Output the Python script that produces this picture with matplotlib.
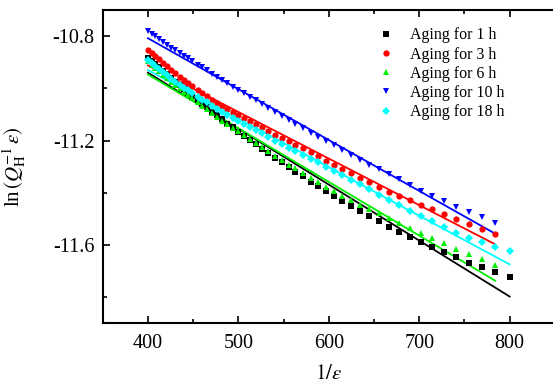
import matplotlib
matplotlib.use('Agg')
import matplotlib.pyplot as plt
import numpy as np
from matplotlib.ticker import MultipleLocator

plt.rcParams['font.family'] = ['Liberation Serif', 'DejaVu Serif']
plt.rcParams['mathtext.fontset'] = 'stix'
plt.rcParams['axes.unicode_minus'] = False

# 1/strain values (shared by all series)
inv_eps = [400, 404, 408, 412, 417, 421, 426, 430, 435, 440,
           444, 449, 455, 460, 465, 471, 476, 482, 488, 494,
           500, 506, 513, 519, 526, 533, 541, 548, 556, 563,
           571, 580, 588, 597, 606, 615, 625, 635, 645, 656,
           667, 678, 690, 702, 714, 727, 741, 755, 769, 784, 800]

lnq_1h = [-10.884, -10.896, -10.908, -10.920, -10.935, -10.947, -10.962, -10.974, -10.988, -11.003,
          -11.014, -11.028, -11.045, -11.059, -11.073, -11.089, -11.103, -11.119, -11.135, -11.150,
          -11.166, -11.181, -11.199, -11.214, -11.232, -11.249, -11.268, -11.284, -11.303, -11.319,
          -11.337, -11.357, -11.375, -11.394, -11.413, -11.431, -11.451, -11.471, -11.490, -11.510,
          -11.530, -11.549, -11.570, -11.589, -11.608, -11.628, -11.648, -11.668, -11.686, -11.705, -11.724]

lnq_3h = [-10.852, -10.864, -10.877, -10.889, -10.904, -10.916, -10.931, -10.943, -10.956, -10.970,
          -10.980, -10.992, -11.006, -11.018, -11.030, -11.044, -11.056, -11.068, -11.080, -11.092,
          -11.103, -11.114, -11.127, -11.138, -11.150, -11.163, -11.177, -11.189, -11.203, -11.216,
          -11.230, -11.245, -11.260, -11.277, -11.293, -11.309, -11.326, -11.343, -11.360, -11.379,
          -11.396, -11.412, -11.428, -11.445, -11.462, -11.480, -11.499, -11.519, -11.538, -11.559]

lnq_6h = [-10.897, -10.909, -10.921, -10.933, -10.948, -10.959, -10.974, -10.986, -11.000, -11.013,
          -11.024, -11.037, -11.053, -11.067, -11.080, -11.096, -11.110, -11.125, -11.138, -11.152,
          -11.165, -11.179, -11.196, -11.210, -11.225, -11.241, -11.259, -11.274, -11.292, -11.307,
          -11.324, -11.344, -11.360, -11.379, -11.395, -11.411, -11.428, -11.445, -11.461, -11.479,
          -11.497, -11.515, -11.535, -11.555, -11.573, -11.593, -11.614, -11.635, -11.654, -11.675]

lnq_10h = [-10.781, -10.791, -10.801, -10.811, -10.824, -10.834, -10.846, -10.855, -10.866, -10.877,
           -10.885, -10.896, -10.909, -10.920, -10.931, -10.945, -10.955, -10.968, -10.980, -10.993,
           -11.007, -11.019, -11.034, -11.046, -11.060, -11.074, -11.091, -11.106, -11.123, -11.138,
           -11.153, -11.170, -11.185, -11.201, -11.218, -11.235, -11.255, -11.274, -11.292, -11.310,
           -11.329, -11.349, -11.371, -11.393, -11.412, -11.432, -11.453, -11.474, -11.494, -11.516]

lnq_18h = [-10.891, -10.903, -10.914, -10.925, -10.939, -10.950, -10.963, -10.974, -10.987, -10.998,
           -11.008, -11.019, -11.032, -11.043, -11.054, -11.067, -11.078, -11.091, -11.103, -11.115,
           -11.125, -11.136, -11.149, -11.160, -11.173, -11.186, -11.201, -11.214, -11.228, -11.240,
           -11.254, -11.270, -11.284, -11.300, -11.316, -11.332, -11.350, -11.368, -11.387, -11.407,
           -11.427, -11.447, -11.468, -11.490, -11.510, -11.531, -11.553, -11.572, -11.589, -11.606, -11.625]

labels = ['Aging for 1 h', 'Aging for 3 h', 'Aging for 6 h', 'Aging for 10 h', 'Aging for 18 h']
# linear fits: value at 1/eps = 400 and slope
fit_at_400 = [-10.940, -10.912, -10.947, -10.808, -10.930]
fit_slope = [-0.002144, -0.001785, -0.002057, -0.00195, -0.001861]

series = [lnq_1h, lnq_3h, lnq_6h, lnq_10h, lnq_18h]
colors = ['black', '#ff0000', '#00ee00', '#0000ff', '#00ffff']
markers = ['s', 'o', '^', 'v', 'D']
msizes = [4, 4.5, 5, 5, 4]

fig = plt.figure(figsize=(5.53, 3.85), dpi=100)
ax = fig.add_axes([0.1857, 0.1603, 0.8177, 0.8137])

for ys, c, m, ms, lab, b0, k in zip(series, colors, markers, msizes, labels, fit_at_400, fit_slope):
    xs = np.array(inv_eps[:len(ys)])
    ax.plot(xs, ys, linestyle='none', marker=m, color=c, markersize=ms,
            markeredgewidth=0, label=lab, zorder=3)
    xl = np.array([xs[0], xs[-1]])
    ax.plot(xl, b0 + k * (xl - 400), color=c, linewidth=1.3, zorder=2)

ax.set_xlim(350, 850)
ax.set_ylim(-11.9, -10.7)
ax.xaxis.set_major_locator(MultipleLocator(100))
ax.xaxis.set_minor_locator(MultipleLocator(50))
ax.yaxis.set_minor_locator(MultipleLocator(0.2))
ax.set_yticks([-10.8, -11.2, -11.6])
ax.tick_params(which='both', direction='in', top=True, right=False, width=1.2, labelsize=14.5)
ax.tick_params(which='major', length=5)
ax.tick_params(which='minor', length=3)
ax.tick_params(axis='x', pad=8)
ax.tick_params(axis='y', pad=6)
for s in ax.spines.values():
    s.set_linewidth(1.5)
ax.spines['right'].set_visible(False)

ax.set_xlabel(r'$1/\varepsilon$', fontsize=15, labelpad=8)
ax.set_ylabel(r'ln$\,(Q_{\rm H}^{-1}\,\varepsilon)$', fontsize=15)
ax.yaxis.set_label_coords(-0.165, 0.5)

ax.legend(loc='upper left', bbox_to_anchor=(0.595, 0.965), frameon=False, fontsize=11.5,
          handlelength=1.0, handletextpad=1.0, labelspacing=0.2, borderaxespad=0)

fig.savefig('out.png', dpi=100)
